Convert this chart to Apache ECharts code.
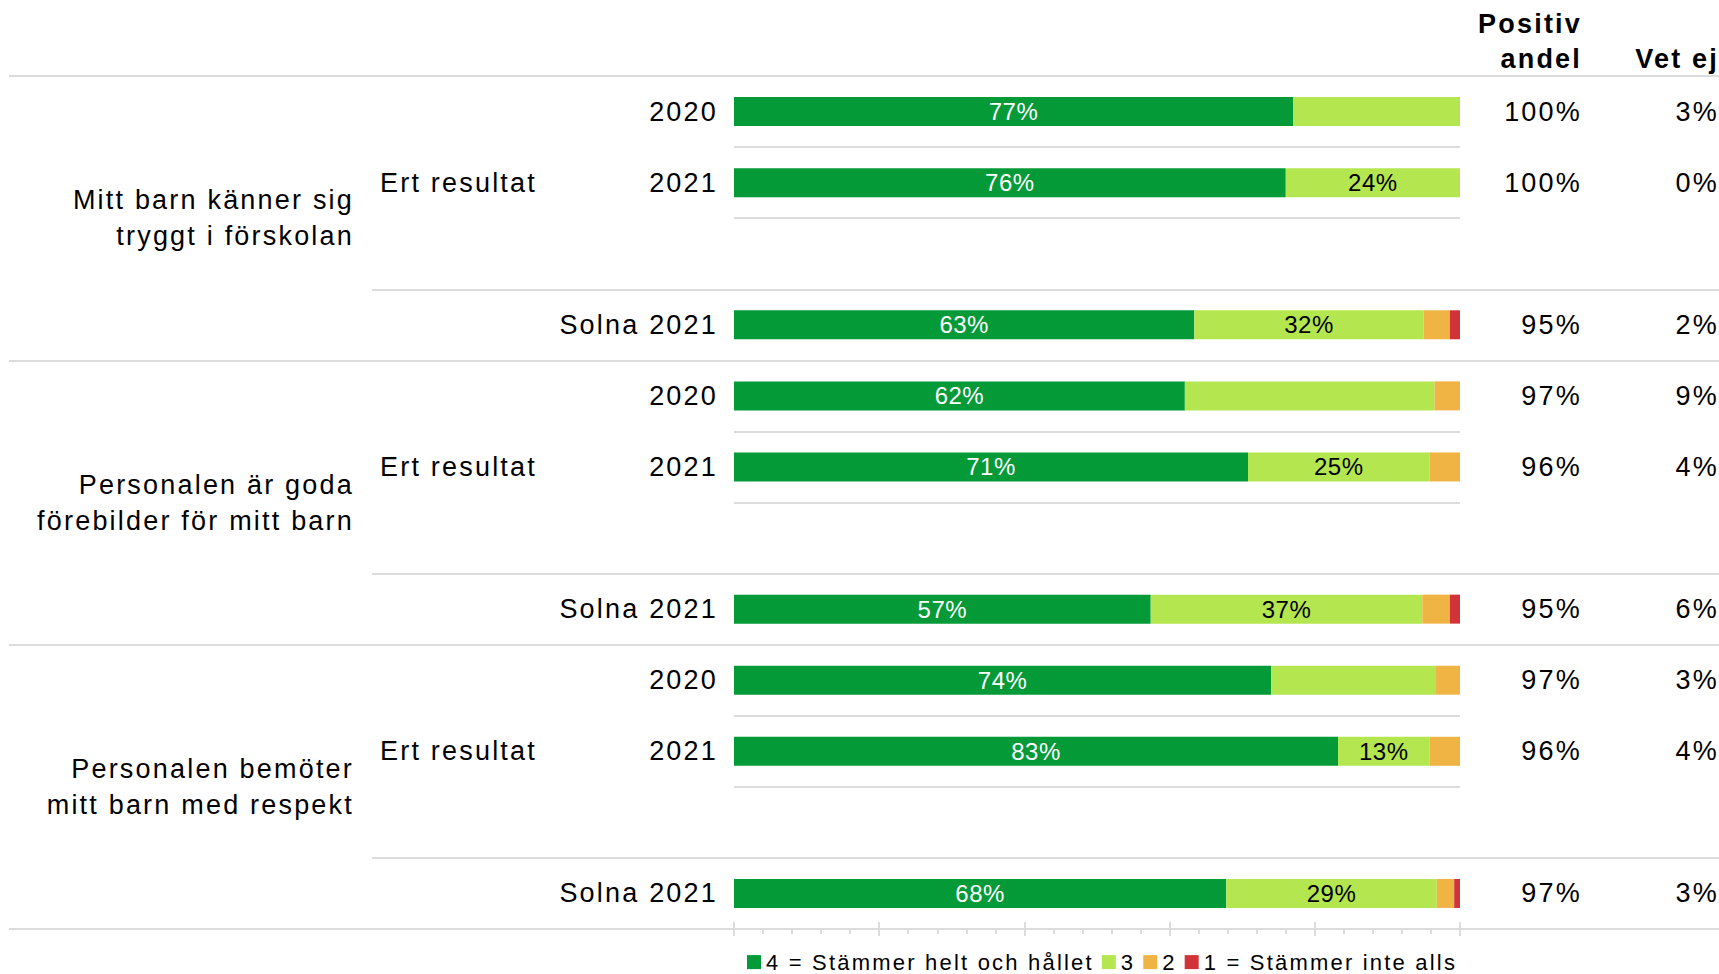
<!DOCTYPE html>
<html>
<head>
<meta charset="utf-8">
<title>Trygghet och respekt</title>
<script src="https://cdn.jsdelivr.net/npm/echarts@6.0.0/dist/echarts.min.js"></script>
<style>
html, body { margin: 0; padding: 0; background: #fff; }
#chart { width: 1719px; height: 974px; }
/* the source text is set with a little extra tracking */
#chart svg text { letter-spacing: 2.2px; }
#chart svg text[style*="24px"] { letter-spacing: 0.5px; }
</style>
</head>
<body>
<div id="chart"></div>
<script>
// rows from top to bottom, 4 per question (the 3rd one is an empty spacer)
var rowLabels = ['2020', '2021', '', 'Solna 2021', '2020', '2021', '', 'Solna 2021', '2020', '2021', '', 'Solna 2021'];
var ertLabels = ['', 'Ert resultat', '', '', '', 'Ert resultat', '', '', '', 'Ert resultat', '', ''];
var groupLabels = [
  'Mitt barn känner sig\ntryggt i förskolan',
  'Personalen är goda\nförebilder för mitt barn',
  'Personalen bemöter\nmitt barn med respekt'
];
var legendNames = ['4 = Stämmer helt och hållet', '3', '2', '1 = Stämmer inte alls'];

// share of answers in percent
var val4 = [77, 76, null, 63.4, 62.1, 70.8, null, 57.4, 74, 83.2, null, 67.8];
var val3 = [23, 24, null, 31.6, 34.4, 25, null, 37.4, 22.7, 12.6, null, 29];
var val2 = [0, 0, null, 3.6, 3.5, 4.2, null, 3.8, 3.3, 4.2, null, 2.4];
var val1 = [0, 0, null, 1.4, 0, 0, null, 1.4, 0, 0, null, 0.8];
// which rows print the value inside the "3" segment
var show3 = [false, true, false, true, false, true, false, true, false, true, false, true];

var positive = [100, 100, null, 95, 97, 96, null, 95, 97, 96, null, 97];
var vetEj = [3, 0, null, 2, 9, 4, null, 6, 3, 4, null, 3];

var FONT = 'Liberation Sans';
var SPACING = 2.2;
var lineColor = '#dcdcdc';

// make echarts measure text with the same tracking as the css above
var measureCtx = document.createElement('canvas').getContext('2d');
if (echarts.setPlatformAPI) {
  echarts.setPlatformAPI({
    measureText: function (text, font) {
      measureCtx.font = font || '12px sans-serif';
      var sp = font && font.indexOf('24px') >= 0 ? 0.5 : SPACING;
      return { width: measureCtx.measureText(text).width + text.length * sp };
    }
  });
}

var TOP = 76, BOTTOM = 45;
var band = (974 - TOP - BOTTOM) / 12;

function pct(arr) {
  return arr.map(function (v) { return v == null ? '' : v + '%'; });
}

function labelAxis(data, position, label) {
  return {
    type: 'category',
    gridIndex: 0,
    inverse: true,
    position: position,
    data: data,
    axisLine: { show: false },
    axisTick: { show: false },
    splitLine: { show: false },
    axisLabel: Object.assign({
      interval: 0,
      fontSize: 27,
      color: '#000',
      fontFamily: FONT
    }, label)
  };
}

function lineAxis(gridIndex, max, inverse) {
  return {
    type: 'value',
    gridIndex: gridIndex,
    min: 0,
    max: max,
    interval: 4,
    inverse: inverse,
    axisLine: { show: false },
    axisTick: { show: false },
    axisLabel: { show: false },
    splitLine: { show: true, lineStyle: { color: lineColor, width: 2 } }
  };
}

var myChart = echarts.init(document.getElementById('chart'), null, { renderer: 'svg' });

var labelStyle = { fontFamily: FONT, fontSize: 24 };

myChart.setOption({
  animation: false,
  textStyle: { fontFamily: FONT },
  title: [
    {
      text: 'Positiv\nandel',
      left: 1582,
      top: 6,
      padding: 0,
      textAlign: 'right',
      textVerticalAlign: 'top',
      textStyle: { fontSize: 27, fontWeight: 'bold', color: '#000', lineHeight: 35, fontFamily: FONT }
    },
    {
      text: 'Vet ej',
      left: 1719,
      top: 41,
      padding: 0,
      textAlign: 'right',
      textVerticalAlign: 'top',
      textStyle: { fontSize: 27, fontWeight: 'bold', color: '#000', lineHeight: 35, fontFamily: FONT }
    }
  ],
  legend: {
    data: legendNames,
    left: 742,
    top: 945,
    icon: 'rect',
    itemWidth: 14,
    itemHeight: 14,
    itemGap: 8,
    selectedMode: false,
    textStyle: { fontSize: 22, color: '#000', fontFamily: FONT }
  },
  grid: [
    { left: 734, right: 259, top: TOP, bottom: BOTTOM, containLabel: false, outerBoundsMode: 'none' },
    // full width separators (top, between questions, bottom)
    { left: 9, right: 0, top: TOP, bottom: BOTTOM, containLabel: false, outerBoundsMode: 'none' },
    // separators above each "Solna 2021" row
    { left: 372, right: 0, top: TOP + 3 * band, bottom: BOTTOM, containLabel: false, outerBoundsMode: 'none' }
  ],
  xAxis: [
    {
      type: 'value',
      gridIndex: 0,
      min: 0,
      max: 100,
      interval: 20,
      position: 'bottom',
      axisLabel: { show: false },
      axisLine: { show: true, lineStyle: { color: lineColor, width: 2 } },
      axisTick: { show: true, length: 7, lineStyle: { color: lineColor, width: 2 } },
      minorTick: { show: true, splitNumber: 5, length: 5, lineStyle: { color: lineColor, width: 2 } },
      splitLine: { show: false }
    },
    {
      type: 'value',
      gridIndex: 0,
      min: 0,
      max: 100,
      interval: 20,
      position: 'bottom',
      axisLabel: { show: false },
      axisLine: { show: false },
      axisTick: { show: true, inside: true, length: 7, lineStyle: { color: lineColor, width: 2 } },
      splitLine: { show: false }
    },
    { type: 'value', gridIndex: 1, show: false },
    { type: 'value', gridIndex: 2, show: false }
  ],
  yAxis: [
    {
      type: 'category',
      gridIndex: 0,
      inverse: true,
      position: 'left',
      data: rowLabels,
      axisLine: { show: false },
      axisTick: { show: false },
      axisLabel: { interval: 0, margin: 16, fontSize: 27, color: '#000', fontFamily: FONT },
      splitLine: { show: true, interval: 0, lineStyle: { color: lineColor, width: 2 } }
    },
    labelAxis(ertLabels, 'left', { margin: 354, align: 'left' }),
    labelAxis(groupLabels, 'left', { margin: 380, align: 'right', lineHeight: 36 }),
    labelAxis(pct(positive), 'right', { margin: 122, align: 'right' }),
    labelAxis(pct(vetEj), 'right', { margin: 259, align: 'right' }),
    lineAxis(1, 12, false),
    lineAxis(2, 9, true)
  ],
  series: [
    {
      name: legendNames[0],
      type: 'bar',
      stack: 'total',
      barWidth: 29,
      data: val4,
      itemStyle: { color: '#039a37' },
      label: Object.assign({
        show: true,
        position: 'inside',
        color: '#fff',
        formatter: function (p) { return Math.round(p.value) + '%'; }
      }, labelStyle),
      emphasis: { disabled: true }
    },
    {
      name: legendNames[1],
      type: 'bar',
      stack: 'total',
      barWidth: 29,
      data: val3.map(function (v, i) {
        return { value: v, label: { show: show3[i] } };
      }),
      itemStyle: { color: '#b3e64f' },
      label: Object.assign({
        show: true,
        position: 'inside',
        color: '#000',
        formatter: function (p) { return Math.round(p.value) + '%'; }
      }, labelStyle),
      emphasis: { disabled: true }
    },
    {
      name: legendNames[2],
      type: 'bar',
      stack: 'total',
      barWidth: 29,
      data: val2,
      itemStyle: { color: '#f0b444' },
      emphasis: { disabled: true }
    },
    {
      name: legendNames[3],
      type: 'bar',
      stack: 'total',
      barWidth: 29,
      data: val1,
      itemStyle: { color: '#d13438' },
      emphasis: { disabled: true }
    }
  ]
});

window.addEventListener('resize', function () {
  myChart.resize();
});
</script>
</body>
</html>
